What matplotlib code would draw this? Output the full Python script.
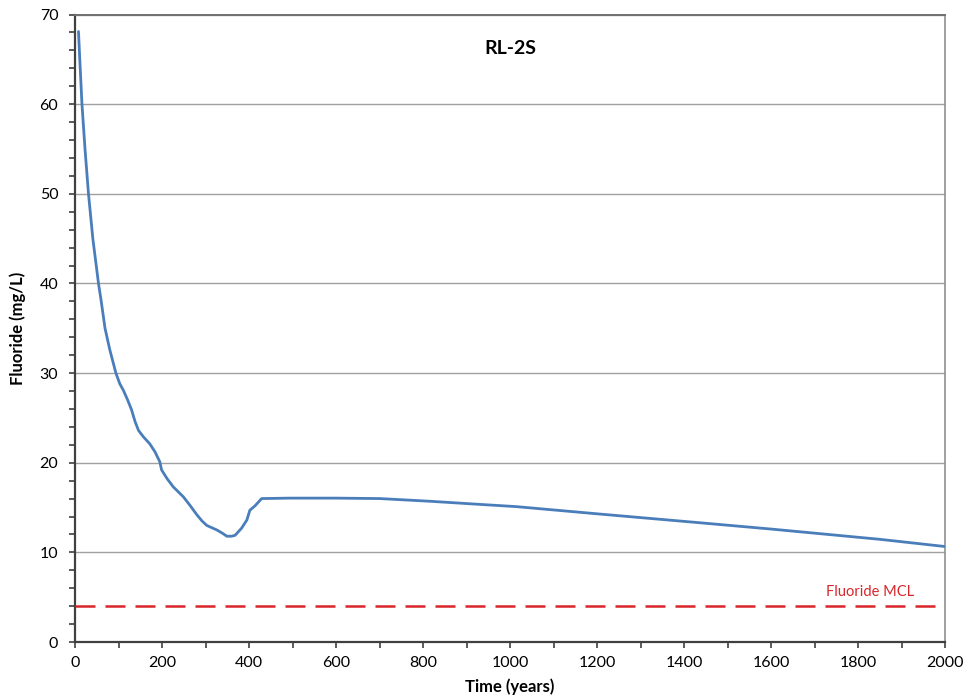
import matplotlib
matplotlib.use("Agg")
import matplotlib.pyplot as plt
from matplotlib.ticker import MultipleLocator

# Data
time_years = [8, 11, 16, 23, 31, 41, 54, 60, 69, 80, 94, 103, 111, 121, 130, 138, 146, 157,
              172, 184, 195, 199, 212, 226, 249, 265, 280, 292, 303, 326, 340, 349, 360, 368,
              383, 395, 402, 414, 429, 494, 600, 701, 816, 931, 1015, 1200, 1437, 1600,
              1851, 2000]
fluoride = [68.1, 65.0, 60.0, 55.0, 50.0, 45.0, 40.0, 38.1, 35.0, 32.6, 30.0, 28.8, 28.1,
            27.0, 25.9, 24.6, 23.6, 22.9, 22.1, 21.2, 20.1, 19.2, 18.2, 17.3, 16.2, 15.2,
            14.2, 13.5, 13.0, 12.5, 12.1, 11.8, 11.8, 11.9, 12.7, 13.6, 14.7, 15.2, 16.0,
            16.05, 16.05, 16.0, 15.7, 15.35, 15.1, 14.3, 13.3, 12.6, 11.45, 10.65]
mcl_value = 4.0
mcl_label = "Fluoride MCL"
title_text = "RL-2S"
xlabel_text = "Time (years)"
ylabel_text = "Fluoride (mg/L)"

plt.rcParams['font.family'] = ['Lato', 'DejaVu Sans']

fig = plt.figure(figsize=(9.63, 7.0), dpi=100)
ax = fig.add_axes([75/963, 58/700, 870/963, (642-14.5)/700])

ax.set_xlim(0, 2000)
ax.set_ylim(0, 70)

ax.yaxis.set_major_locator(MultipleLocator(10))
ax.yaxis.set_minor_locator(MultipleLocator(2))
ax.xaxis.set_major_locator(MultipleLocator(200))
ax.xaxis.set_minor_locator(MultipleLocator(100))

ax.grid(axis='y', which='major', color='#a0a0a0', linewidth=1.0)
ax.set_axisbelow(True)

ax.plot(time_years, fluoride, color='#4a7ebb', linewidth=2.0, solid_capstyle='round',
        solid_joinstyle='round', zorder=3)
ax.axhline(mcl_value, color='#d9262b', linewidth=1.8, dashes=(8, 4), zorder=3)
ax.text(1828, mcl_value + 1.6, mcl_label, color='#d9262b', fontsize=10.5,
        ha='center', va='center')

ax.text(1000, 66.2, title_text, fontsize=14, fontweight='bold', ha='center', va='center')

ax.set_xlabel(xlabel_text, fontsize=12, fontweight='bold', labelpad=6)
ax.set_ylabel(ylabel_text, fontsize=12, fontweight='bold', labelpad=10)

for side in ['left', 'bottom']:
    ax.spines[side].set_color('#404040')
    ax.spines[side].set_linewidth(1.6)
ax.spines['top'].set_color('#707070')
ax.spines['top'].set_linewidth(1.4)
ax.spines['right'].set_color('#909090')
ax.spines['right'].set_linewidth(1.2)

ax.tick_params(axis='both', which='both', direction='out', length=4, width=1.2,
               color='#404040', labelsize=11.5)
ax.tick_params(axis='x', which='major', pad=6)
ax.tick_params(axis='y', which='major', pad=8)

fig.savefig("out.png", dpi=100, facecolor='white')
